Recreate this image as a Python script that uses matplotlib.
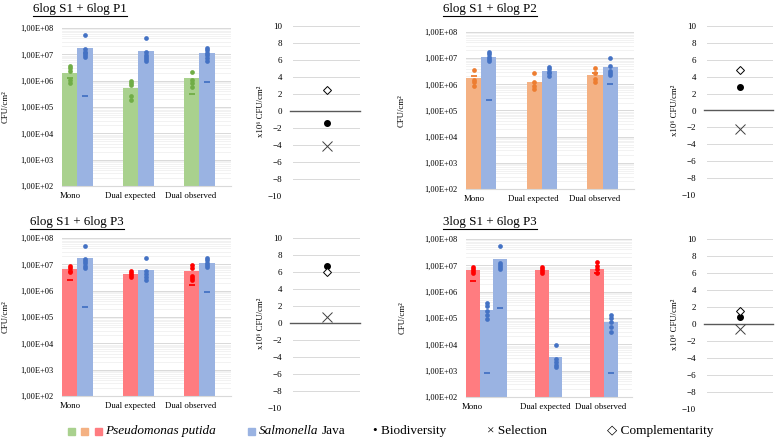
import numpy as np
import matplotlib.pyplot as plt
from matplotlib.ticker import LogLocator, FuncFormatter, NullFormatter
from matplotlib.patches import Rectangle
from matplotlib.lines import Line2D

plt.rcParams['font.family'] = ['Liberation Serif', 'DejaVu Serif']

categories = ['Mono', 'Dual expected', 'Dual observed']
effect_names = ['Biodiversity', 'Selection', 'Complementarity']

# panel 1: 6log S1 + 6log P1
p1_title = '6log S1 + 6log P1'
p1_pp_bar = [2.0e6, 5.3e5, 1.26e6]
p1_pp_dots = [[3.6e6, 2.9e6, 2.4e6, 1.07e6, 7.9e5], [9.7e5, 7.9e5, 6.6e5, 2.6e5, 1.9e5], [2.1e6, 1.1e6, 7.9e5, 5.6e5]]
p1_pp_dash = [1.23e6, None, 3.2e5]
p1_sal_bar = [1.8e7, 1.3e7, 1.1e7]
p1_sal_dots = [[5.3e7, 1.55e7, 1.26e7, 1.09e7, 9.1e6, 7.7e6], [4.1e7, 1.2e7, 9.7e6, 8.2e6, 6.6e6, 5.7e6], [1.74e7, 1.46e7, 1.16e7, 9.1e6, 7.3e6, 5.4e6]]
p1_sal_dash = [2.6e5, None, 8.9e5]
p1_effects = [-1.45, -4.1, 2.5]

# panel 2: 6log S1 + 6log P2
p2_title = '6log S1 + 6log P2'
p2_pp_bar = [1.7e6, 1.24e6, 2.2e6]
p2_pp_dots = [[3.4e6, 1.5e6, 1.2e6, 9.0e5], [2.6e6, 1.2e6, 9.0e5, 6.5e5], [4.3e6, 2.7e6, 1.6e6, 1.26e6]]
p2_pp_dash = [2.1e6, None, 2.7e6]
p2_sal_bar = [1.15e7, 3.1e6, 4.8e6]
p2_sal_dots = [[1.65e7, 1.4e7, 1.15e7, 9.7e6, 7.9e6], [4.6e6, 3.7e6, 3.0e6, 2.6e6, 2.1e6], [1.05e7, 5.2e6, 3.2e6, 2.6e6, 2.2e6]]
p2_sal_dash = [2.6e5, None, 1.0e6]
p2_effects = [2.75, -2.2, 4.8]

# panel 3: 6log S1 + 6log P3
p3_title = '6log S1 + 6log P3'
p3_pp_bar = [6.6e6, 4.3e6, 5.4e6]
p3_pp_dots = [[8.9e6, 7.3e6, 5.7e6, 5.0e6], [5.7e6, 4.8e6, 3.9e6, 3.2e6], [9.3e6, 7.3e6, 3.7e6, 3.0e6, 2.6e6]]
p3_pp_dash = [2.6e6, None, 1.7e6]
p3_sal_bar = [1.8e7, 5.9e6, 1.1e7]
p3_sal_dots = [[5.1e7, 1.6e7, 1.3e7, 1.1e7, 8.9e6, 7.4e6], [1.74e7, 5.7e6, 4.3e6, 3.2e6, 2.6e6], [1.7e7, 1.4e7, 1.1e7, 9.1e6, 7.7e6]]
p3_sal_dash = [2.5e5, None, 9.1e5]
p3_effects = [6.7, 0.75, 5.95]

# panel 4: 3log S1 + 6log P3 (extra 6log S1 mono bar)
p4_title = '3log S1 + 6log P3'
p4_pp_bar = [6.4e6, 6.4e6, 7.2e6]
p4_pp_dots = [[8.9e6, 7.4e6, 6.2e6, 5.2e6], [8.9e6, 7.4e6, 6.2e6, 5.2e6], [1.3e7, 9.4e6, 7.1e6, 5.2e6]]
p4_pp_dash = [2.6e6, None, 5.0e6]
p4_sal_bar = [2.0e5, 3.3e3, 6.8e4]
p4_sal_dots = [[3.8e5, 2.8e5, 1.9e5, 1.3e5, 9.3e4], [9.8e3, 2.7e3, 2.1e3, 1.7e3, 1.4e3], [1.26e5, 9.6e4, 6.8e4, 4.6e4, 3.0e4]]
p4_sal_dash = [8.3e2, None, 8.5e2]
p4_sal6_bar = 1.78e7
p4_sal6_dots = [5.4e7, 1.25e7, 1.0e7, 8.3e6, 7.1e6]
p4_sal6_dash = 2.5e5
p4_effects = [0.85, -0.6, 1.55]

green, green_d = '#A9D18E', '#70AD47'
orange, orange_d = '#F4B183', '#ED7D31'
red, red_d = '#FF7C80', '#FF0000'
blue, blue_d = '#9AB3E2', '#4472C4'

fig = plt.figure(figsize=(7.78, 4.4), dpi=100)
W, H = 778.0, 440.0


def box(x0, x1, y0, y1):
    return [x0 / W, 1 - y1 / H, (x1 - x0) / W, (y1 - y0) / H]


def one_bar(ax, x, h, dots, dash, fc, dc):
    ax.bar(x, h, width=1.0, align='edge', color=fc, zorder=2)
    xc = x + 0.5
    ax.plot([xc] * len(dots), dots, 'o', color=dc, ms=3.4, mew=0, zorder=3)
    if dash is not None:
        ax.plot([xc], [dash], marker='_', color=dc, ms=4.5, mew=1.3, zorder=4)


def bar_panel(ax, bars, xmax, label_pos, fs):
    for x, h, dots, dash, fc, dc in bars:
        one_bar(ax, x, h, dots, dash, fc, dc)
    ax.set_yscale('log')
    ax.set_ylim(1e2, 1e8)
    ax.set_xlim(0, xmax)
    ax.yaxis.set_major_locator(LogLocator(base=10, numticks=10))
    ax.yaxis.set_minor_locator(LogLocator(base=10, subs=np.arange(2, 10), numticks=10))
    ax.yaxis.set_minor_formatter(NullFormatter())
    ax.yaxis.set_major_formatter(FuncFormatter(lambda v, p: ('%.2E' % v).replace('.', ',')))
    ax.grid(True, which='major', axis='y', color='#d9d9d9', lw=0.7, zorder=0)
    ax.grid(True, which='minor', axis='y', color='#f0f0f0', lw=0.6, zorder=0)
    ax.set_axisbelow(True)
    for s in ['left', 'right', 'top']:
        ax.spines[s].set_visible(False)
    ax.spines['bottom'].set_color('#d9d9d9')
    ax.tick_params(axis='y', which='both', length=0, labelsize=fs, pad=6)
    ax.set_xticks(label_pos)
    ax.set_xticklabels(categories, fontsize=6.3)
    ax.tick_params(axis='x', length=0, pad=4)
    ax.set_ylabel('CFU/cm²', fontsize=6.3)


def effect_panel(ax, eff):
    ax.set_ylim(-10, 10)
    ax.set_xlim(0, 2)
    ax.set_yticks(np.arange(-10, 11, 2))
    ax.set_xticks([])
    ax.grid(True, axis='y', color='#d9d9d9', lw=0.7)
    ax.axhline(0, color='#595959', lw=1.0, xmin=-0.05, clip_on=False)
    for s in ax.spines.values():
        s.set_visible(False)
    ax.tick_params(axis='y', length=0, labelsize=6.5, pad=8)
    ax.set_ylabel('x10⁶ CFU/cm²', fontsize=6.3, labelpad=2)
    ax.plot(1, eff[0], 'o', color='black', ms=4, zorder=3)
    ax.plot(1, eff[1], 'x', color='#404040', ms=7, mew=0.7, zorder=3)
    ax.plot(1, eff[2], 'D', mfc='white', mec='black', ms=4.5, mew=0.7, zorder=3)


# slot layout: each category is 4 bar widths, bars start at slot 0
top_step = 3.99
panels = [
    (p1_title, box(62, 231, 28, 186), box(293, 360, 26, 196), green, green_d,
     p1_pp_bar, p1_pp_dots, p1_pp_dash, p1_sal_bar, p1_sal_dots, p1_sal_dash, p1_effects, -0.31),
    (p2_title, box(466, 634, 32, 189), box(707, 773, 26, 195), orange, orange_d,
     p2_pp_bar, p2_pp_dots, p2_pp_dash, p2_sal_bar, p2_sal_dots, p2_sal_dash, p2_effects, -0.36),
    (p3_title, box(62, 231, 238, 396), box(293, 360, 238, 408), red, red_d,
     p3_pp_bar, p3_pp_dots, p3_pp_dash, p3_sal_bar, p3_sal_dots, p3_sal_dash, p3_effects, -0.31),
]

titles = []
for (title, bb, eb, fc, dc, ppb, ppd, ppdash, sb, sd, sdash, eff, lx) in panels:
    ax = fig.add_axes(bb)
    bars = []
    for i in range(3):
        bars.append((i * top_step, ppb[i], ppd[i], ppdash[i], fc, dc))
        bars.append((i * top_step + 1, sb[i], sd[i], sdash[i], blue, blue_d))
    bar_panel(ax, bars, 11.05, [0.52, 4.44, 8.43], 6)
    ax.yaxis.set_label_coords(lx, 0.5)
    ex = fig.add_axes(eb)
    effect_panel(ex, eff)
    titles.append(title)

# panel 4: Mono has P3, S1 3log and S1 6log; dual bars shifted by one slot
ax = fig.add_axes(box(466, 632, 239, 397))
step4 = 4.04
bars = [(0, p4_pp_bar[0], p4_pp_dots[0], p4_pp_dash[0], red, red_d),
        (1, p4_sal_bar[0], p4_sal_dots[0], p4_sal_dash[0], blue, blue_d),
        (2, p4_sal6_bar, p4_sal6_dots, p4_sal6_dash, blue, blue_d)]
for i in (1, 2):
    bars.append((i * step4 + 1, p4_pp_bar[i], p4_pp_dots[i], p4_pp_dash[i], red, red_d))
    bars.append((i * step4 + 2, p4_sal_bar[i], p4_sal_dots[i], p4_sal_dash[i], blue, blue_d))
bar_panel(ax, bars, 12.12, [0.44, 5.77, 9.8], 6)
ax.yaxis.set_label_coords(-0.36, 0.5)
ex = fig.add_axes(box(707, 773, 239, 409))
effect_panel(ex, p4_effects)
titles.append(p4_title)

# titles, underlined
title_pos = [(80, 9), (490, 9), (77, 222), (490, 222)]
tobjs = []
for title, (tx, ty) in zip(titles, title_pos):
    t = fig.text(tx / W, 1 - ty / H, title, fontsize=9.4, ha='center', va='center')
    tobjs.append(t)

# legend
ly = 1 - 431 / H
lfs = 9.5
for x0, c in [(68, green), (81, orange), (95, red), (248, blue)]:
    fig.add_artist(Rectangle((x0 / W, ly - 3.5 / H), 7 / W, 7 / H, color=c, transform=fig.transFigure))
fig.text(105 / W, ly, 'Pseudomonas putida', fontsize=lfs, style='italic', va='center')
sal = fig.text(259 / W, ly, 'Salmonella', fontsize=lfs, style='italic', va='center')
fig.text(373 / W, ly, '• Biodiversity', fontsize=lfs, va='center')
fig.text(487 / W, ly, '× Selection', fontsize=lfs, va='center')
fig.text(607 / W, ly, '◇ Complementarity', fontsize=lfs, va='center', family=['Liberation Serif', 'DejaVu Sans'])

fig.canvas.draw()
r = fig.canvas.get_renderer()
sb_ = sal.get_window_extent(r)
fig.text((sb_.x1 + 3) / W, ly, 'Java', fontsize=lfs, va='center')
for t in tobjs:
    b = t.get_window_extent(r)
    yy = b.y0 - 1
    fig.add_artist(Line2D([b.x0 / W, b.x1 / W], [yy / H, yy / H], color='black', lw=0.8, transform=fig.transFigure))

fig.savefig('out.png', dpi=100, facecolor='white')
